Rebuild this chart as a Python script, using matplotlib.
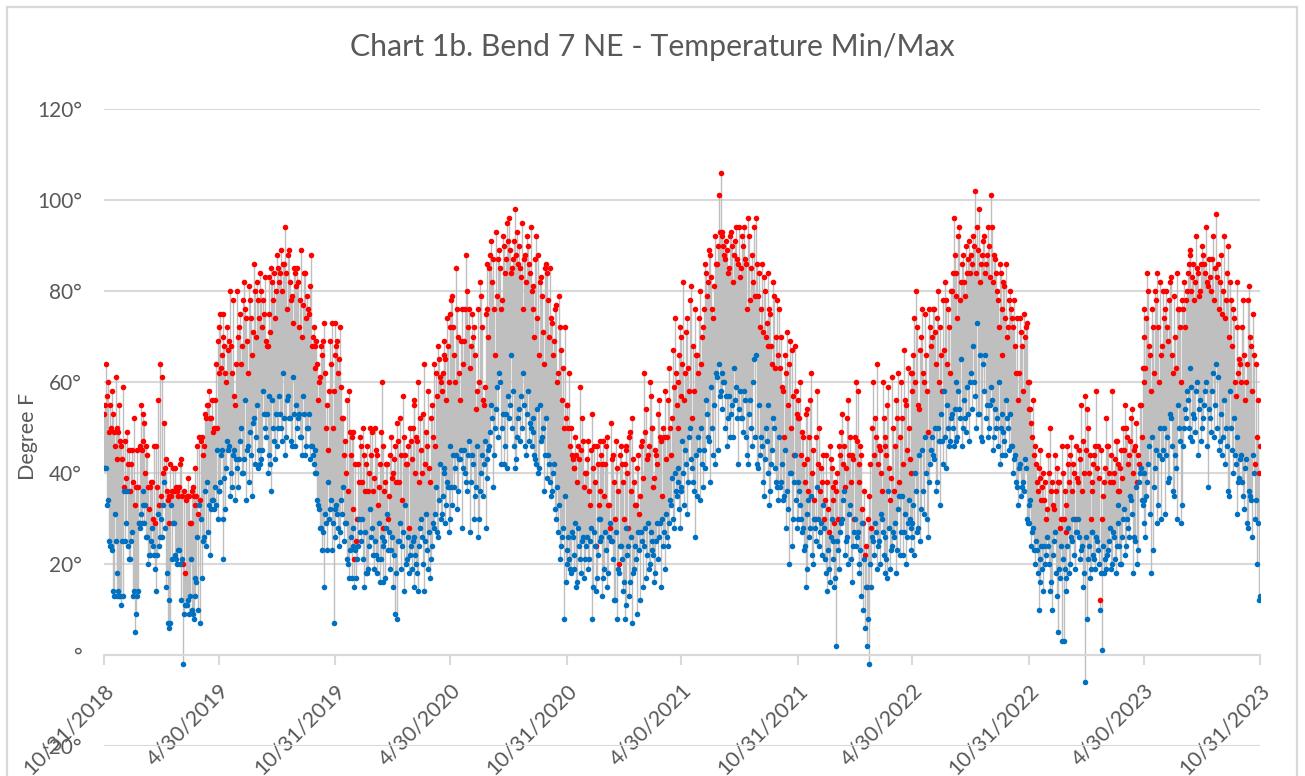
from matplotlib import pyplot as plt
from matplotlib.patches import Rectangle
import numpy as np
import pandas as pd

# half year periods (one row is about one month)
period_ends = ["10/31/2018", "4/30/2019", "10/31/2019", "4/30/2020", "10/31/2020", "4/30/2021",
               "10/31/2021", "4/30/2022", "10/31/2022", "4/30/2023", "10/31/2023"]

max_1 = [53, 64, 60, 55, 58, 49, 61, 50, 55, 46,
         59, 47, 49, 45, 42, 38, 33, 45, 29, 55,
         53, 51, 46, 37, 37, 38, 46, 46, 56, 64,
         61, 51, 43, 34, 29, 35, 41, 41, 36, 37,
         43, 20, 18, 35, 35, 29, 37, 41, 35, 31,
         34, 48, 46, 52, 55, 52, 56, 50, 64, 69]
min_1 = [41, 41, 34, 24, 23, 13, 25, 18, 13, 11,
         13, 25, 36, 21, 25, 13, 5, 13, 29, 31,
         33, 29, 26, 20, 22, 28, 22, 14, 31, 26,
         26, 38, 15, 7, 6, 33, 29, 22, 20, 23,
         12, -2, 11, 11, 9, 21, 9, 13, 16, 10,
         7, 17, 26, 24, 27, 22, 34, 32, 33, 30]

max_2 = [72, 63, 75, 68, 60, 67, 80, 62, 57, 64,
         70, 75, 68, 82, 74, 62, 78, 66, 86, 70,
         78, 84, 72, 75, 69, 68, 83, 85, 78, 74,
         88, 82, 89, 86, 94, 76, 89, 78, 73, 84,
         85, 72, 89, 77, 84, 79, 75, 88, 70, 68,
         69, 56, 61, 66, 73, 50, 45, 69, 73, 58]
min_2 = [36, 44, 21, 39, 41, 45, 35, 37, 45, 43,
         37, 47, 40, 43, 34, 46, 49, 35, 52, 48,
         41, 42, 45, 53, 48, 40, 57, 36, 50, 43,
         46, 57, 50, 62, 44, 56, 52, 47, 61, 46,
         50, 53, 48, 57, 44, 50, 53, 46, 44, 40,
         40, 33, 28, 23, 15, 29, 38, 32, 23, 7]

max_3 = [73, 69, 65, 59, 52, 47, 56, 58, 44, 49,
         21, 25, 42, 48, 38, 44, 42, 36, 50, 49,
         39, 45, 33, 42, 60, 28, 38, 42, 35, 48,
         40, 46, 51, 38, 44, 57, 44, 42, 28, 47,
         50, 56, 48, 60, 52, 40, 64, 49, 58, 38,
         55, 64, 62, 68, 61, 58, 69, 65, 74, 60]
min_3 = [26, 31, 24, 34, 37, 29, 21, 17, 26, 28,
         15, 17, 24, 27, 30, 15, 18, 19, 32, 28,
         19, 22, 21, 16, 26, 24, 17, 31, 27, 23,
         15, 9, 8, 25, 19, 27, 33, 21, 18, 24,
         25, 15, 20, 14, 28, 26, 14, 31, 19, 17,
         24, 28, 37, 26, 42, 31, 40, 29, 38, 27]

max_4 = [75, 79, 66, 85, 70, 56, 76, 69, 88, 72,
         63, 75, 72, 54, 76, 82, 72, 55, 75, 76,
         85, 91, 87, 66, 79, 89, 76, 92, 84, 95,
         96, 84, 87, 98, 93, 90, 83, 76, 88, 92,
         86, 94, 81, 70, 92, 88, 82, 79, 64, 86,
         78, 85, 73, 69, 77, 62, 72, 56, 50, 52]
min_4 = [46, 33, 37, 44, 36, 43, 28, 45, 38, 44,
         27, 44, 30, 37, 26, 36, 44, 42, 28, 39,
         46, 55, 37, 50, 59, 62, 42, 53, 46, 41,
         52, 66, 58, 41, 48, 54, 57, 62, 46, 53,
         47, 50, 52, 44, 42, 40, 55, 48, 36, 52,
         44, 38, 36, 42, 30, 27, 21, 26, 8, 16]

max_5 = [55, 62, 50, 43, 41, 44, 46, 59, 52, 37,
         40, 47, 33, 53, 46, 24, 42, 36, 44, 47,
         42, 48, 33, 51, 44, 30, 41, 20, 46, 38,
         42, 46, 28, 49, 52, 38, 33, 44, 35, 47,
         62, 54, 44, 60, 50, 37, 45, 42, 56, 47,
         50, 58, 48, 63, 44, 67, 74, 55, 60, 72]
min_5 = [23, 21, 18, 26, 19, 15, 28, 21, 25, 17,
         24, 19, 25, 8, 27, 14, 22, 30, 26, 17,
         27, 15, 26, 25, 21, 12, 8, 18, 24, 14,
         8, 11, 24, 16, 7, 19, 21, 27, 12, 25,
         24, 17, 29, 20, 25, 22, 18, 29, 26, 15,
         24, 19, 26, 29, 33, 30, 40, 35, 38, 28]

max_6 = [70, 82, 62, 74, 58, 81, 68, 76, 66, 74,
         64, 72, 86, 79, 89, 83, 74, 92, 86, 101,
         106, 93, 88, 91, 84, 92, 90, 88, 94, 86,
         83, 92, 94, 86, 96, 78, 88, 94, 96, 79,
         72, 86, 83, 70, 84, 76, 68, 82, 63, 78,
         76, 70, 58, 66, 71, 64, 50, 57, 68, 53]
min_6 = [36, 40, 45, 31, 48, 43, 38, 26, 35, 45,
         50, 37, 41, 53, 47, 59, 44, 42, 61, 64,
         58, 62, 60, 57, 52, 48, 55, 63, 59, 42,
         58, 52, 58, 48, 42, 56, 46, 65, 66, 41,
         44, 46, 35, 50, 55, 33, 42, 52, 41, 37,
         48, 38, 34, 45, 36, 20, 40, 30, 44, 28]

max_7 = [56, 60, 49, 42, 53, 54, 48, 62, 45, 30,
         58, 50, 41, 44, 34, 38, 27, 43, 37, 29,
         36, 30, 44, 53, 46, 41, 56, 48, 44, 30,
         60, 58, 42, 44, 29, 22, 15, 35, 28, 60,
         52, 64, 46, 40, 60, 48, 44, 59, 34, 61,
         36, 56, 62, 48, 52, 67, 55, 63, 43, 62]
min_7 = [38, 33, 27, 23, 15, 31, 26, 35, 20, 28,
         37, 24, 29, 33, 21, 14, 19, 26, 25, 15,
         2, 23, 27, 30, 36, 25, 20, 33, 16, 27,
         24, 27, 20, 13, 10, 6, 2, -2, 15, 25,
         29, 19, 25, 31, 27, 18, 21, 36, 19, 24,
         26, 18, 32, 22, 35, 27, 20, 29, 30, 23]

max_8 = [62, 74, 80, 55, 67, 76, 60, 66, 49, 72,
         70, 76, 64, 80, 72, 58, 67, 78, 76, 62,
         80, 96, 84, 74, 94, 82, 88, 79, 84, 91,
         88, 92, 102, 94, 98, 86, 91, 84, 88, 90,
         101, 82, 87, 80, 72, 84, 66, 81, 86, 72,
         80, 74, 78, 62, 56, 74, 68, 75, 72, 60]
min_8 = [29, 22, 36, 28, 25, 45, 31, 40, 26, 42,
         48, 43, 36, 50, 33, 47, 58, 41, 50, 47,
         53, 46, 60, 48, 54, 65, 50, 52, 59, 47,
         62, 68, 57, 73, 53, 48, 64, 66, 55, 50,
         59, 45, 54, 52, 60, 50, 44, 47, 56, 50,
         53, 46, 43, 38, 33, 42, 37, 36, 41, 29]

max_9 = [60, 51, 56, 46, 38, 41, 45, 37, 34, 30,
         44, 50, 38, 32, 36, 38, 28, 46, 30, 27,
         46, 38, 48, 42, 30, 39, 45, 55, 47, 57,
         54, 40, 30, 36, 44, 58, 46, 12, 30, 38,
         52, 46, 38, 58, 40, 47, 42, 36, 45, 50,
         55, 48, 44, 52, 40, 46, 38, 42, 55, 63]
min_9 = [29, 24, 28, 20, 23, 10, 16, 19, 24, 22,
         24, 14, 10, 25, 18, 5, 17, 3, 3, 14,
         24, 18, 26, 30, 19, 27, 26, 23, 15, -6,
         8, 24, 19, 27, 21, 26, 23, 10, 1, 18,
         19, 23, 28, 20, 26, 18, 33, 24, 20, 30,
         22, 30, 26, 34, 18, 25, 20, 38, 41, 33]

max_10 = [76, 63, 84, 68, 58, 72, 80, 84, 60, 66,
          80, 76, 72, 78, 83, 62, 70, 84, 76, 60,
          76, 72, 80, 86, 89, 83, 78, 92, 84, 80,
          90, 86, 94, 81, 83, 87, 78, 97, 86, 82,
          75, 92, 78, 90, 82, 68, 74, 57, 82, 65,
          60, 78, 56, 64, 81, 68, 75, 42, 48, 40]
min_10 = [34, 26, 38, 46, 18, 23, 41, 29, 44, 30,
          45, 31, 48, 39, 52, 36, 44, 30, 50, 29,
          46, 54, 58, 50, 63, 47, 52, 58, 44, 56,
          50, 55, 60, 37, 52, 58, 48, 64, 61, 47,
          44, 56, 50, 36, 58, 45, 52, 42, 48, 39,
          44, 35, 41, 29, 36, 34, 44, 30, 20, 12]

# in-between days, the dense part of each band
more_max_1 = [55, 57, 49, 50, 53, 46, 43, 49, 47, 43,
              37, 39, 42, 36, 45, 52, 37, 37, 46, 45,
              47, 40, 44, 32, 38, 30, 29, 37, 33, 35,
              40, 41, 36, 35, 42, 36, 36, 37, 35, 42,
              35, 36, 34, 39, 29, 36, 35, 33, 46, 48,
              47, 44, 53, 55, 58, 52, 49, 56, 50, 62]
more_min_1 = [41, 33, 25, 24, 14, 31, 13, 14, 13, 25,
              36, 29, 24, 21, 27, 14, 9, 14, 28, 29,
              36, 33, 26, 22, 25, 24, 19, 22, 24, 30,
              33, 28, 18, 12, 7, 21, 29, 21, 23, 20,
              21, 9, 11, 12, 13, 10, 8, 17, 26, 33,
              30, 25, 36, 38, 33, 32, 34, 37, 45, 36]

more_max_2 = [75, 66, 70, 62, 72, 69, 68, 78, 55, 80,
              72, 64, 78, 76, 69, 81, 74, 71, 80, 82,
              74, 80, 78, 83, 68, 75, 71, 82, 84, 80,
              85, 84, 80, 86, 84, 88, 82, 79, 85, 81,
              82, 78, 70, 84, 74, 76, 81, 68, 72, 63,
              64, 60, 68, 69, 62, 55, 58, 64, 50, 66]
more_min_2 = [38, 45, 30, 32, 47, 46, 40, 44, 34, 41,
              43, 50, 40, 56, 45, 38, 44, 51, 42, 55,
              45, 43, 58, 50, 53, 44, 42, 56, 47, 53,
              50, 53, 47, 52, 48, 57, 52, 46, 53, 55,
              52, 48, 44, 53, 46, 50, 43, 46, 42, 45,
              34, 32, 28, 27, 31, 23, 30, 34, 29, 32]

more_max_3 = [68, 62, 72, 52, 44, 40, 36, 49, 48, 32,
              42, 30, 38, 46, 50, 36, 46, 40, 44, 36,
              50, 44, 37, 49, 46, 36, 42, 30, 44, 39,
              43, 38, 47, 52, 34, 48, 42, 46, 50, 43,
              55, 40, 47, 38, 45, 53, 42, 46, 41, 52,
              48, 46, 57, 65, 60, 62, 66, 56, 68, 72]
more_min_3 = [33, 28, 27, 31, 25, 29, 20, 23, 17, 24,
              23, 21, 30, 25, 21, 27, 18, 24, 26, 22,
              25, 18, 29, 21, 16, 25, 28, 23, 19, 26,
              22, 18, 25, 29, 24, 14, 20, 26, 22, 19,
              26, 22, 18, 24, 30, 20, 25, 23, 27, 21,
              29, 31, 27, 34, 30, 35, 41, 33, 37, 30]

more_max_4 = [78, 72, 60, 76, 62, 69, 64, 76, 80, 76,
              68, 70, 66, 58, 60, 79, 56, 59, 86, 70,
              88, 82, 76, 93, 87, 85, 78, 90, 87, 91,
              89, 85, 91, 88, 86, 85, 95, 87, 82, 90,
              84, 80, 76, 87, 74, 66, 83, 71, 85, 84,
              70, 74, 66, 76, 60, 79, 67, 63, 72, 55]
more_min_4 = [37, 44, 41, 32, 43, 45, 41, 40, 36, 47,
              38, 42, 35, 46, 30, 40, 35, 47, 43, 45,
              49, 52, 44, 54, 48, 60, 50, 42, 53, 57,
              55, 50, 46, 43, 52, 47, 50, 55, 44, 58,
              51, 46, 49, 43, 54, 41, 47, 50, 44, 39,
              42, 35, 40, 32, 37, 33, 24, 28, 35, 20]

more_max_5 = [50, 46, 44, 41, 48, 38, 43, 45, 47, 40,
              43, 36, 45, 41, 38, 46, 33, 47, 42, 35,
              46, 33, 28, 43, 38, 47, 36, 44, 42, 30,
              45, 40, 48, 36, 43, 33, 41, 31, 46, 39,
              49, 43, 46, 57, 50, 39, 44, 53, 48, 35,
              48, 43, 56, 50, 52, 59, 62, 50, 66, 57]
more_min_5 = [26, 19, 27, 22, 29, 16, 24, 18, 26, 21,
              26, 21, 28, 15, 24, 17, 30, 25, 13, 19,
              23, 18, 29, 25, 12, 27, 19, 24, 21, 16,
              28, 22, 13, 26, 18, 24, 9, 23, 27, 15,
              28, 22, 19, 27, 23, 16, 25, 21, 29, 30,
              27, 31, 24, 34, 39, 28, 36, 41, 32, 37]

more_max_6 = [64, 56, 71, 63, 78, 52, 58, 66, 62, 80,
              70, 76, 84, 82, 88, 76, 81, 86, 90, 93,
              92, 90, 87, 89, 85, 93, 82, 91, 87, 94,
              85, 90, 87, 76, 92, 85, 82, 79, 86, 84,
              76, 71, 80, 73, 68, 75, 64, 79, 70, 66,
              63, 59, 48, 62, 55, 69, 67, 44, 58, 52]
more_min_6 = [47, 33, 42, 38, 50, 41, 36, 44, 48, 34,
              42, 45, 56, 48, 38, 50, 55, 62, 45, 57,
              54, 60, 50, 46, 57, 53, 48, 56, 52, 54,
              52, 49, 56, 44, 53, 50, 60, 48, 42, 55,
              48, 38, 43, 47, 40, 36, 45, 50, 38, 34,
              37, 42, 35, 28, 32, 40, 24, 38, 34, 30]

more_max_7 = [52, 44, 48, 38, 43, 36, 56, 40, 34, 48,
              42, 36, 38, 30, 44, 32, 46, 41, 34, 38,
              40, 46, 49, 42, 37, 52, 44, 38, 43, 48,
              47, 38, 46, 32, 36, 24, 30, 42, 50, 44,
              48, 42, 45, 36, 52, 46, 55, 41, 39, 50,
              46, 52, 38, 60, 42, 56, 45, 50, 40, 58]
more_min_7 = [36, 30, 28, 24, 19, 34, 28, 22, 30, 25,
              30, 27, 22, 28, 18, 23, 16, 30, 21, 17,
              25, 19, 29, 34, 22, 26, 31, 21, 24, 30,
              26, 18, 23, 29, 21, 15, 8, 20, 26, 22,
              27, 24, 20, 30, 22, 26, 17, 28, 23, 27,
              29, 23, 35, 27, 22, 31, 26, 34, 28, 26]

more_max_8 = [66, 60, 72, 54, 70, 62, 75, 58, 76, 68,
              76, 71, 74, 60, 66, 78, 82, 64, 72, 80,
              84, 88, 79, 92, 78, 86, 82, 90, 87, 84,
              86, 90, 84, 89, 82, 88, 92, 86, 94, 83,
              94, 88, 84, 78, 86, 76, 82, 74, 70, 78,
              76, 72, 68, 74, 62, 71, 58, 70, 73, 54]
more_min_8 = [33, 40, 27, 44, 32, 36, 48, 30, 38, 45,
              44, 50, 38, 47, 53, 42, 48, 55, 46, 52,
              50, 54, 47, 58, 52, 46, 56, 49, 53, 60,
              54, 60, 50, 53, 66, 47, 58, 52, 48, 55,
              56, 48, 50, 46, 42, 53, 49, 44, 52, 45,
              46, 40, 44, 37, 41, 35, 38, 43, 30, 33]

more_max_9 = [54, 48, 44, 42, 36, 39, 34, 40, 38, 32,
              40, 36, 33, 44, 41, 38, 30, 40, 36, 33,
              42, 44, 36, 40, 46, 38, 43, 36, 40, 45,
              50, 44, 38, 42, 46, 41, 39, 45, 35, 41,
              46, 40, 44, 38, 43, 47, 36, 41, 39, 45,
              50, 42, 47, 54, 45, 51, 44, 55, 48, 60]
more_min_9 = [34, 27, 23, 25, 18, 21, 24, 14, 20, 26,
              20, 16, 22, 27, 13, 19, 24, 21, 19, 17,
              28, 20, 25, 22, 27, 30, 21, 24, 18, 26,
              21, 17, 27, 22, 19, 25, 20, 18, 24, 21,
              22, 25, 19, 27, 21, 24, 29, 20, 26, 32,
              24, 28, 35, 31, 26, 37, 23, 40, 34, 29]

more_max_10 = [70, 74, 80, 66, 76, 62, 78, 72, 82, 68,
               74, 80, 69, 82, 66, 79, 63, 76, 72, 78,
               82, 78, 84, 88, 80, 86, 82, 85, 79, 86,
               88, 84, 82, 87, 80, 92, 85, 83, 76, 88,
               80, 74, 84, 70, 78, 76, 60, 72, 62, 64,
               72, 66, 60, 78, 70, 58, 66, 64, 56, 46]
more_min_10 = [40, 35, 42, 31, 48, 37, 45, 33, 50, 43,
               50, 44, 38, 53, 46, 35, 41, 55, 47, 33,
               50, 52, 56, 48, 59, 53, 49, 60, 54, 47,
               52, 58, 46, 54, 49, 62, 55, 50, 45, 53,
               48, 42, 46, 35, 50, 40, 44, 31, 38, 43,
               38, 32, 43, 28, 35, 26, 40, 34, 29, 13]

y_ticks = [-20, 0, 20, 40, 60, 80, 100, 120]
y_tick_labels = ["-20°", "°", "20°", "40°", "60°", "80°", "100°", "120°"]

all_max = [max_1, max_2, max_3, max_4, max_5, max_6, max_7, max_8, max_9, max_10]
all_min = [min_1, min_2, min_3, min_4, min_5, min_6, min_7, min_8, min_9, min_10]
all_more_max = [more_max_1, more_max_2, more_max_3, more_max_4, more_max_5,
                more_max_6, more_max_7, more_max_8, more_max_9, more_max_10]
all_more_min = [more_min_1, more_min_2, more_min_3, more_min_4, more_min_5,
                more_min_6, more_min_7, more_min_8, more_min_9, more_min_10]

dates = []
highs = []
lows = []
for i in range(len(all_max)):
    period_highs = np.column_stack([all_max[i], all_more_max[i]]).ravel()
    period_lows = np.column_stack([all_min[i], all_more_min[i]]).ravel()
    dates.extend(pd.date_range(period_ends[i], period_ends[i + 1], periods=len(period_highs)))
    highs.extend(period_highs)
    lows.extend(period_lows)
highs = np.array(highs)
lows = np.array(lows)

text_color = "#595959"
grid_color = "#d9d9d9"
plt.rcParams["font.family"] = ["Lato", "DejaVu Sans"]

W, H = 1305, 776
fig = plt.figure(figsize=(W / 100, H / 100), dpi=100)
ax = fig.add_axes([104 / W, (H - 746) / H, (1260 - 104) / W, (746 - 109) / H])

# outer chart border, runs off the bottom of the picture
fig.add_artist(Rectangle((7 / W, -0.05), (1297 - 7) / W, 1.05 - 7 / H, transform=fig.transFigure,
                         fill=False, edgecolor=grid_color, linewidth=1.6))

for side in ["top", "left", "right"]:
    ax.spines[side].set_visible(False)
ax.spines["bottom"].set_position(("data", 0))
ax.spines["bottom"].set_color(grid_color)
ax.spines["bottom"].set_linewidth(1.5)

ax.vlines(dates, lows, highs, color="#bfbfbf", linewidth=1.0, zorder=2)
ax.plot(dates, highs, "o", color="#ff0000", markersize=4.0, markeredgewidth=0, zorder=3)
ax.plot(dates, lows, "o", color="#0070c0", markersize=4.0, markeredgewidth=0, zorder=4)

ax.set_xlim(pd.Timestamp(period_ends[0]), pd.Timestamp(period_ends[-1]))
ax.set_ylim(-20, 120)
ax.set_yticks(y_ticks)
ax.set_yticklabels(y_tick_labels, fontsize=15, color=text_color)
ax.set_xticks([pd.Timestamp(d) for d in period_ends])
ax.set_xticklabels(period_ends, fontsize=15.5, color=text_color, rotation=45, ha="right", va="top",
                   rotation_mode="anchor")
ax.tick_params(axis="y", length=0, pad=16)
ax.tick_params(axis="x", length=7, width=1.5, color=grid_color, pad=11)
ax.grid(axis="y", color=grid_color, linewidth=1.5, zorder=1)
ax.set_axisbelow(True)

fig.text(652 / W, 1 - 47 / H, "Chart 1b. Bend 7 NE - Temperature Min/Max", fontsize=21.8,
         color=text_color, ha="center", va="center")
fig.text(28 / W, 1 - 436 / H, "Degree F", fontsize=15.5, color=text_color, rotation=90,
         ha="center", va="center")

plt.savefig("out.png", dpi=100)
